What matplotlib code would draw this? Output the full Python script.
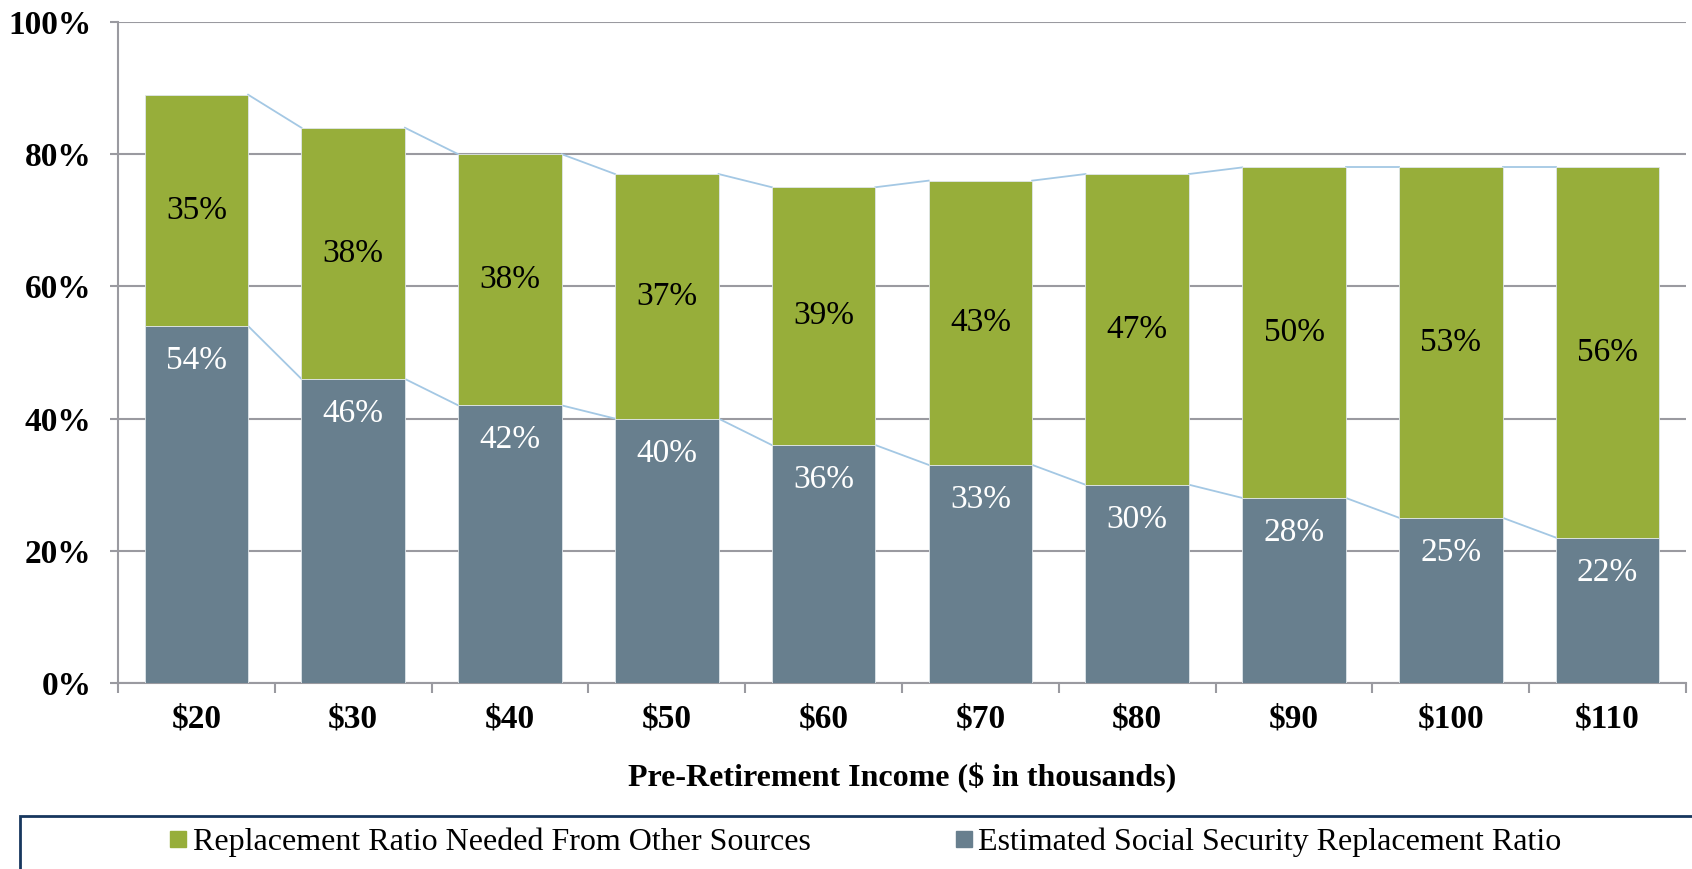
import numpy as np
import matplotlib.pyplot as plt
from matplotlib.patches import Rectangle
from matplotlib.lines import Line2D

incomes = ['$20', '$30', '$40', '$50', '$60', '$70', '$80', '$90', '$100', '$110']
social_security = [54, 46, 42, 40, 36, 33, 30, 28, 25, 22]
other_sources = [35, 38, 38, 37, 39, 43, 47, 50, 53, 56]

green = '#97AE3A'
slate = '#687F8E'
link = '#A4C8E4'
gridc = '#9A9AA0'

plt.rcParams['font.family'] = ['Liberation Serif', 'DejaVu Serif']

fig = plt.figure(figsize=(16.92, 8.69), dpi=100)
ax = fig.add_axes([118/1692, 1-683/869, (1686-118)/1692, (683-22)/869])

x = np.arange(len(incomes))
ss = np.array(social_security)
oth = np.array(other_sources)
total = ss + oth
w = 0.66

ax.bar(x, ss, w, color=slate, edgecolor='#dfe6ea', linewidth=0.6, zorder=3)
ax.bar(x, oth, w, bottom=ss, color=green, edgecolor='#dfe6ea', linewidth=0.6, zorder=3)

# connector lines between adjacent bars
for i in range(len(x) - 1):
    ax.plot([x[i] + w/2, x[i+1] - w/2], [ss[i], ss[i+1]], color=link, lw=1.3, zorder=2)
    ax.plot([x[i] + w/2, x[i+1] - w/2], [total[i], total[i+1]], color=link, lw=1.3, zorder=2)

for i in range(len(x)):
    ax.text(x[i], ss[i] + oth[i]/2, f'{oth[i]}%', ha='center', va='center',
            fontsize=24, color='black', zorder=4)
    ax.annotate(f'{ss[i]}%', (x[i], ss[i]), xytext=(0, -14), textcoords='offset points',
                ha='center', va='top', fontsize=24, color='white', zorder=4)

ax.set_xlim(-0.5, len(x) - 0.5)
ax.set_ylim(0, 100)
ax.set_yticks(range(0, 101, 20))
ax.set_yticklabels([f'{v}%' for v in range(0, 101, 20)], fontsize=24, fontweight='bold')
ax.set_xticks(x)
ax.set_xticklabels(incomes, fontsize=24, fontweight='bold')
ax.set_xticks(np.arange(-0.5, len(x)), minor=True)
ax.tick_params(axis='x', which='major', length=0, pad=15)
ax.tick_params(axis='x', which='minor', length=7, width=1.5, color=gridc, direction='out')
ax.tick_params(axis='y', length=6, width=1.5, color=gridc, pad=13)

ax.yaxis.grid(True, color=gridc, lw=1.5, zorder=0)
ax.set_axisbelow(True)
for s in ['top', 'right']:
    ax.spines[s].set_visible(False)
for s in ['left', 'bottom']:
    ax.spines[s].set_color(gridc)
    ax.spines[s].set_linewidth(1.5)

ax.set_xlabel('Pre-Retirement Income ($ in thousands)', fontsize=23, fontweight='bold', labelpad=20)

# legend frame
fig.patches.append(Rectangle((20/1692, -0.2), 1.0, 0.2 + 1 - 816/869, transform=fig.transFigure,
                             fill=False, edgecolor='#17375E', lw=2))
handles = [Line2D([], [], marker='s', ls='none', color=green, markersize=12),
           Line2D([], [], marker='s', ls='none', color=slate, markersize=12)]
fig.legend(handles, ['Replacement Ratio Needed From Other Sources',
                     'Estimated Social Security Replacement Ratio'],
           loc='center', bbox_to_anchor=(865/1692, 1-842/869), ncol=2, frameon=False,
           fontsize=23, handlelength=0.6, handletextpad=0.15, columnspacing=4.5)

fig.savefig('out.png', dpi=100)
